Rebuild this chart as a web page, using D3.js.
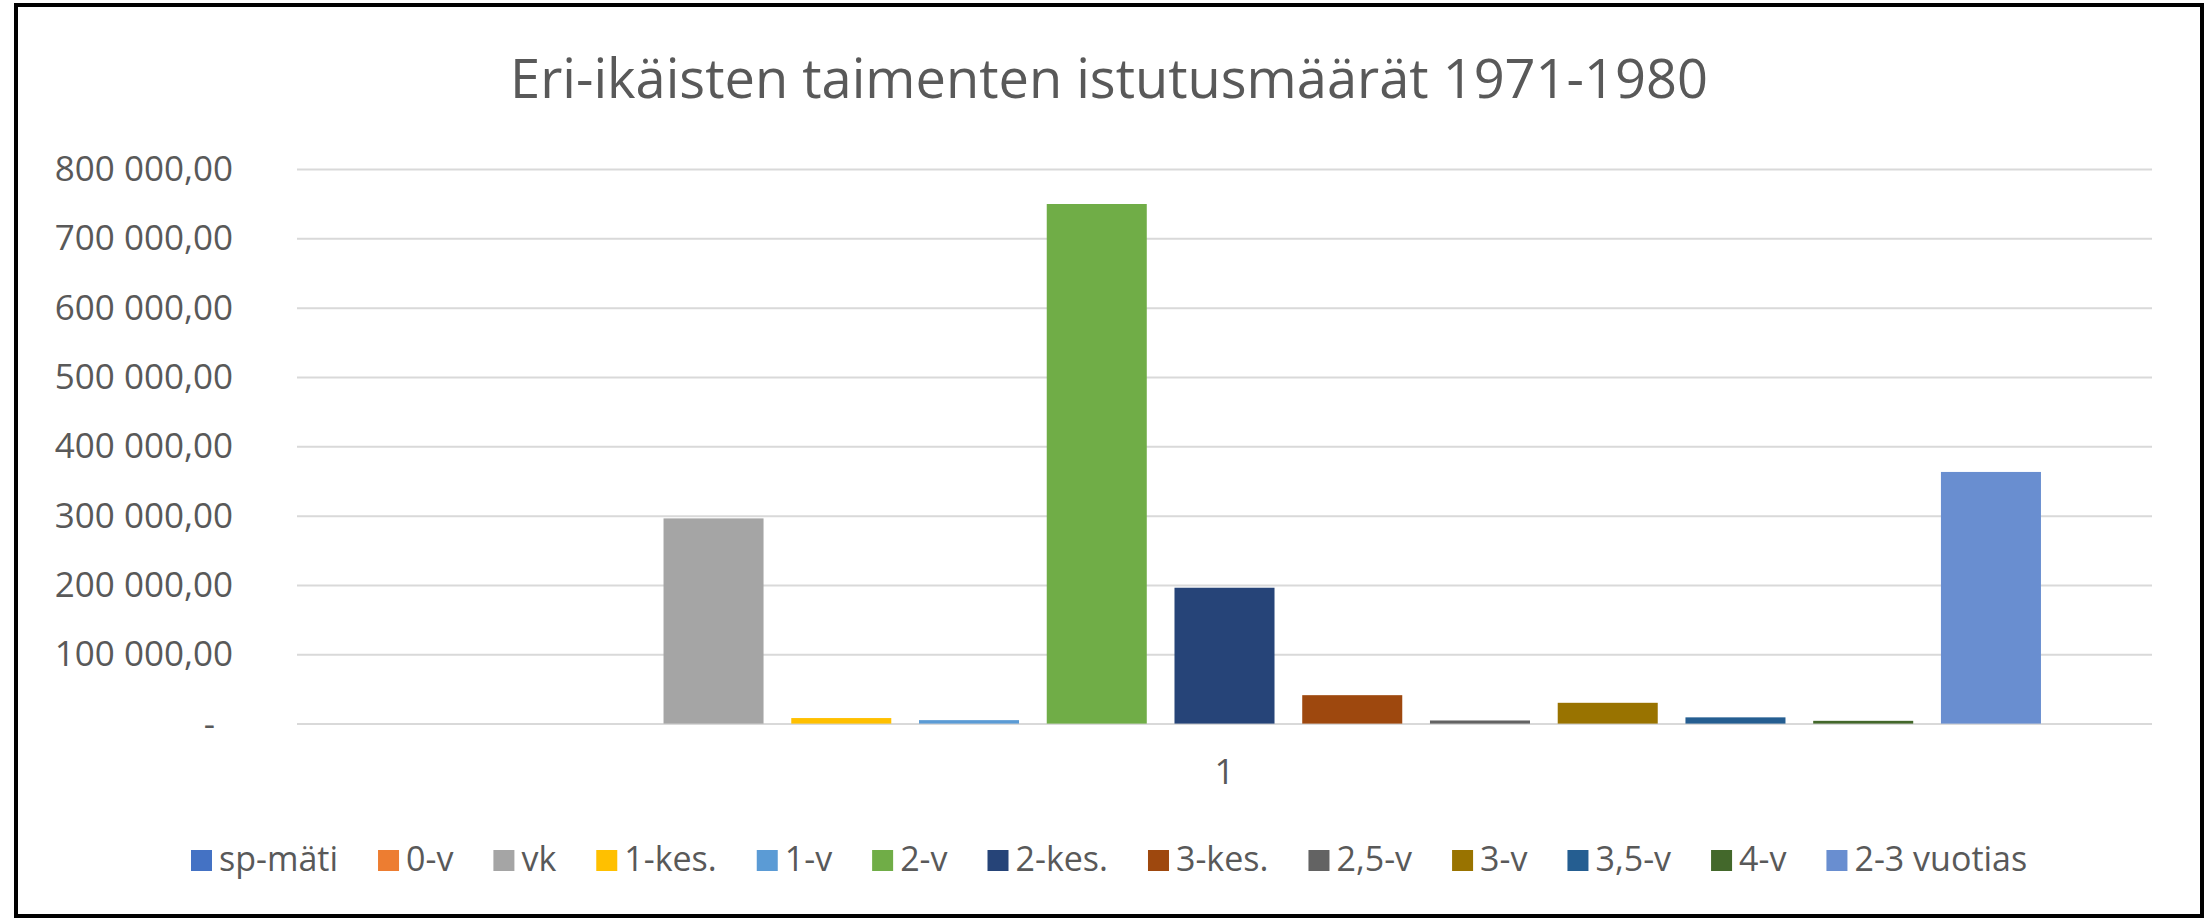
<!DOCTYPE html>
<html>
<head>
<meta charset="utf-8">
<script src="https://cdn.jsdelivr.net/npm/d3@7"></script>
<style>
  html, body { margin: 0; padding: 0; background: #fff; }
  svg { display: block; }
  text { font-family: "Open Sans", "DejaVu Sans", sans-serif; fill: #595959; }
</style>
</head>
<body>
<svg id="chart" width="2208" height="919"></svg>
<script>
// ---- data ----
const chartTitle = "Eri-ikäisten taimenten istutusmäärät 1971-1980";
const categories = ["1"];
const seriesNames = ["sp-mäti", "0-v", "vk", "1-kes.", "1-v", "2-v", "2-kes.", "3-kes.", "2,5-v", "3-v", "3,5-v", "4-v", "2-3 vuotias"];
const seriesValues = [0, 0, 296000, 8000, 5000, 749500, 196000, 41000, 4500, 30000, 9000, 4000, 363000];
const seriesColors = ["#4472C4", "#ED7D31", "#A5A5A5", "#FFC000", "#5B9BD5", "#70AD47", "#264478", "#9E480E", "#636363", "#997300", "#255E91", "#43682B", "#698ED0"];
const yTickValues = [0, 100000, 200000, 300000, 400000, 500000, 600000, 700000, 800000];
const yTickLabels = ["-", "100 000,00", "200 000,00", "300 000,00", "400 000,00", "500 000,00", "600 000,00", "700 000,00", "800 000,00"];

// ---- layout ----
const plot = { left: 297, right: 2152, top: 169, bottom: 723.6 };
const svg = d3.select("#chart");

// frame
svg.append("rect").attr("x", 16).attr("y", 5).attr("width", 2186).attr("height", 911)
  .attr("fill", "#fff").attr("stroke", "#000").attr("stroke-width", 4);

// title
svg.append("text").attr("x", 1109).attr("y", 98).attr("text-anchor", "middle")
  .style("font-size", "54.2px").text(chartTitle);

// scales
const y = d3.scaleLinear().domain([0, 800000]).range([plot.bottom, plot.top]);
const x0 = d3.scaleBand().domain(categories).range([plot.left, plot.right]).paddingInner(0).paddingOuter(0.068);
const x1 = d3.scaleBand().domain(seriesNames).range([0, x0.bandwidth()]).paddingInner(0.217).paddingOuter(0);
const color = d3.scaleOrdinal().domain(seriesNames).range(seriesColors);

// gridlines
const grid = svg.append("g").attr("transform", `translate(${plot.left},0)`)
  .call(d3.axisLeft(y).tickValues(yTickValues).tickSize(-(plot.right - plot.left)).tickFormat(""));
grid.select(".domain").remove();
grid.selectAll(".tick line").attr("stroke", "#d9d9d9").attr("stroke-width", 2);

// y axis labels
const yAxis = svg.append("g").attr("transform", `translate(233,0)`)
  .call(d3.axisLeft(y).tickValues(yTickValues).tickSize(0).tickPadding(0)
    .tickFormat((d, i) => yTickLabels[i]));
yAxis.select(".domain").remove();
yAxis.selectAll(".tick text")
  .attr("x", (d) => d === 0 ? -18 : 0)
  .attr("dy", "0.33em")
  .style("font-size", "35px")
  .style("font-family", "'Open Sans', sans-serif")
  .attr("fill", "#595959");

// bars
const groups = svg.append("g").selectAll("g").data(categories).join("g")
  .attr("transform", (c) => `translate(${x0(c)},0)`);
groups.selectAll("rect")
  .data(() => seriesNames.map((n, i) => ({ name: n, value: seriesValues[i] })))
  .join("rect")
  .attr("x", (d) => x1(d.name))
  .attr("width", x1.bandwidth())
  .attr("y", (d) => y(d.value))
  .attr("height", (d) => y(0) - y(d.value))
  .attr("fill", (d) => color(d.name));

// category axis label
const xAxis = svg.append("g").attr("transform", `translate(0,${plot.bottom})`)
  .call(d3.axisBottom(x0).tickSize(0).tickPadding(0));
xAxis.select(".domain").remove();
xAxis.selectAll(".tick text").attr("dy", 0).attr("y", 60)
  .style("font-size", "35px").style("font-family", "'Open Sans', sans-serif").attr("fill", "#595959");

// legend
const legend = svg.append("g").attr("transform", "translate(191,0)");
const sq = 21, gapText = 7, gapItem = 40, legendBaseline = 871;
let cx = 0;
seriesNames.forEach((n) => {
  const g = legend.append("g");
  g.append("rect").attr("x", 0).attr("y", legendBaseline - sq).attr("width", sq).attr("height", sq).attr("fill", color(n));
  const t = g.append("text").attr("x", sq + gapText).attr("y", legendBaseline).style("font-size", "34px").text(n);
  const w = t.node().getComputedTextLength();
  g.attr("transform", `translate(${cx},0)`);
  cx += sq + gapText + w + gapItem;
});
</script>
</body>
</html>
